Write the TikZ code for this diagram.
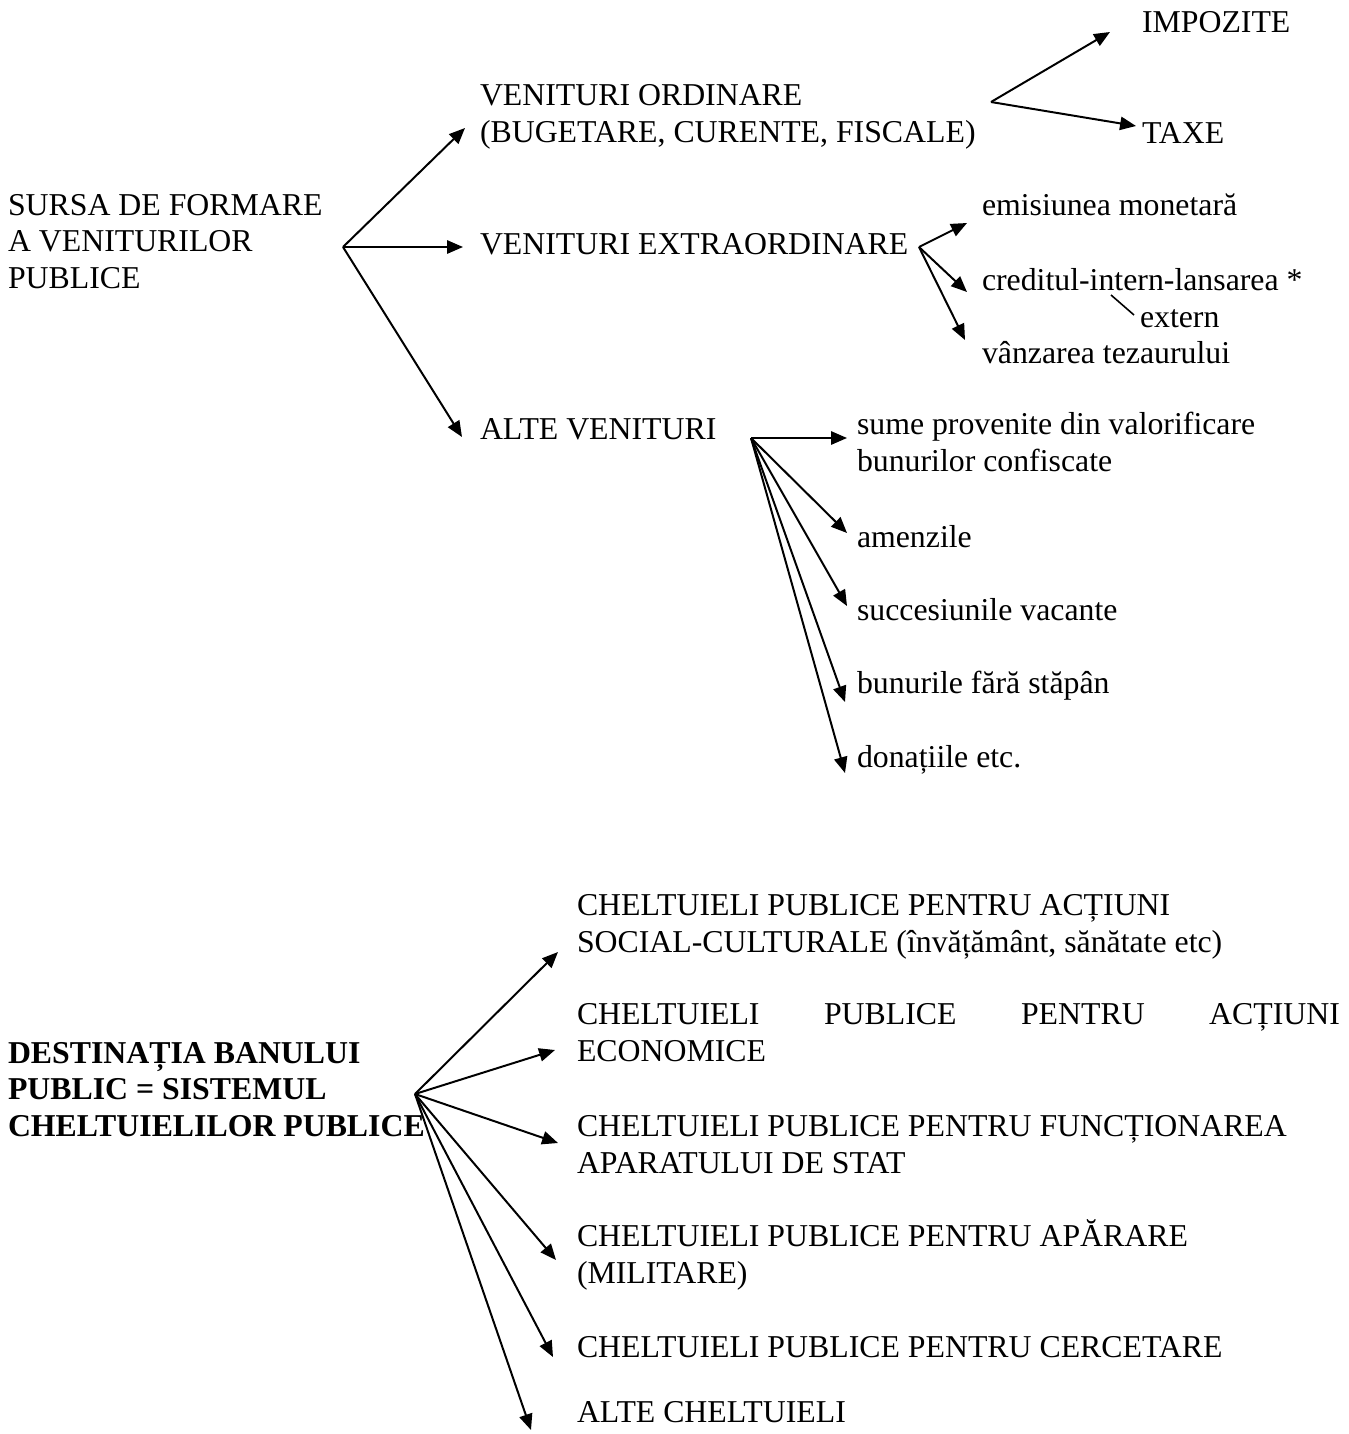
\documentclass[tikz,border=0pt]{standalone}
\usepackage{fontspec}
\setmainfont{Liberation Serif}
\usetikzlibrary{arrows.meta}
\tikzset{
  txt/.style={anchor=base west, inner sep=0pt, outer sep=0pt, align=left,
    font=\fontsize{12}{13.6}\selectfont},
  arr/.style={-{Triangle[length=6pt,width=5pt]}, line width=0.75pt},
  lnk/.style={line width=0.6pt}
}
\begin{document}
\begin{tikzpicture}[x=0.37736pt,y=-0.37736pt]
\useasboundingbox (0,0) rectangle (1348,1434);
% (multi-line nodes are placed by the baseline of their last line)
% ---------- top: sources ----------
\node[txt] (sursa) at (8,288) {SURSA DE FORMARE\\A VENITURILOR\\PUBLICE};
\coordinate (r1) at (343,247);
\node[txt] (vo) at (480,142) {VENITURI ORDINARE\\(BUGETARE, CURENTE, FISCALE)};
\node[txt] (ve) at (480,254) {VENITURI EXTRAORDINARE};
\node[txt] (av) at (480,439) {ALTE VENITURI};
\coordinate (tvo) at (465,128);
\coordinate (tve) at (463,247);
\coordinate (tav) at (462,437);
\draw[arr] (r1) -- (tvo);
\draw[arr] (r1) -- (tve);
\draw[arr] (r1) -- (tav);
% ordinare
\coordinate (r2) at (991,102);
\node[txt] (impozite) at (1142,32) {IMPOZITE};
\node[txt] (taxe) at (1142,143) {TAXE};
\coordinate (timp) at (1110,32);
\coordinate (ttax) at (1136,126);
\draw[arr] (r2) -- (timp);
\draw[arr] (r2) -- (ttax);
% extraordinare
\coordinate (r3) at (919,247);
\node[txt] (emis) at (982,215) {emisiunea monetară};
\node[txt] (cred) at (982,290) {creditul-intern-lansarea *};
\node[txt] (extern) at (1140,327) {extern};
\node[txt] (vanz) at (982,363) {vânzarea tezaurului};
\coordinate (temis) at (967,223);
\coordinate (tcred) at (967,292);
\coordinate (tvanz) at (965,340);
\draw[arr] (r3) -- (temis);
\draw[arr] (r3) -- (tcred);
\draw[arr] (r3) -- (tvanz);
\coordinate (ea) at (1111,295);
\coordinate (eb) at (1134,315);
\draw[lnk] (ea) -- (eb);
% alte venituri
\coordinate (r4) at (751,438);
\node[txt] (sume) at (857,471) {sume provenite din valorificare\\bunurilor confiscate};
\node[txt] (amenzi) at (857,547) {amenzile};
\node[txt] (succ) at (857,620) {succesiunile vacante};
\node[txt] (bunuri) at (857,693) {bunurile fără stăpân};
\node[txt] (donatii) at (857,767) {donațiile etc.};
\coordinate (tsume) at (847,438);
\coordinate (tamenzi) at (847,533);
\coordinate (tsucc) at (847,606);
\coordinate (tbunuri) at (845,702);
\coordinate (tdonatii) at (845,773);
\draw[arr] (r4) -- (tsume);
\draw[arr] (r4) -- (tamenzi);
\draw[arr] (r4) -- (tsucc);
\draw[arr] (r4) -- (tbunuri);
\draw[arr] (r4) -- (tdonatii);
% ---------- bottom: expenditures ----------
\node[txt, font=\fontsize{12}{13.6}\selectfont\bfseries] (dest) at (8,1136)
  {DESTINAȚIA BANULUI\\PUBLIC = SISTEMUL\\CHELTUIELILOR PUBLICE};
\coordinate (r5) at (415,1094);
\node[txt] (c1) at (577,952) {CHELTUIELI PUBLICE PENTRU ACȚIUNI\\SOCIAL-CULTURALE (învățământ, sănătate etc)};
\node[txt] (c2) at (577,1061) {\makebox[287.9pt][s]{CHELTUIELI PUBLICE PENTRU ACȚIUNI}\\ECONOMICE};
\node[txt] (c3) at (577,1173) {CHELTUIELI PUBLICE PENTRU FUNCȚIONAREA\\APARATULUI DE STAT};
\node[txt] (c4) at (577,1283) {CHELTUIELI PUBLICE PENTRU APĂRARE\\(MILITARE)};
\node[txt] (c5) at (577,1357) {CHELTUIELI PUBLICE PENTRU CERCETARE};
\node[txt] (c6) at (577,1422) {ALTE CHELTUIELI};
\coordinate (tc1) at (558,952);
\coordinate (tc2) at (555,1050);
\coordinate (tc3) at (558,1143);
\coordinate (tc4) at (556,1260);
\coordinate (tc5) at (553,1357);
\coordinate (tc6) at (531,1430);
\draw[arr] (r5) -- (tc1);
\draw[arr] (r5) -- (tc2);
\draw[arr] (r5) -- (tc3);
\draw[arr] (r5) -- (tc4);
\draw[arr] (r5) -- (tc5);
\draw[arr] (r5) -- (tc6);
\end{tikzpicture}
\end{document}
